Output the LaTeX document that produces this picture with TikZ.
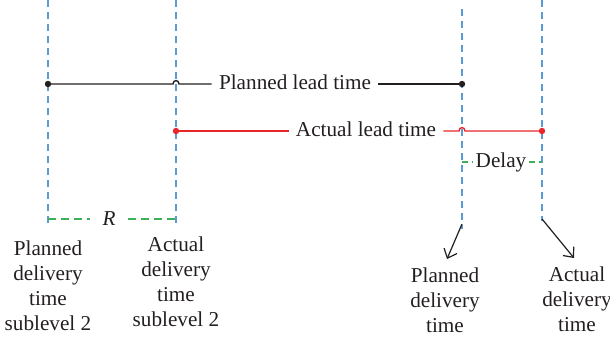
\documentclass[tikz,border=0pt]{standalone}
\usepackage{fontspec}
\setmainfont{Liberation Serif}
\usetikzlibrary{arrows.meta}
\definecolor{vblue}{HTML}{5B9BD5}
\definecolor{vgreen}{HTML}{3DAE5A}
\definecolor{vred}{HTML}{E8262A}
\definecolor{vink}{HTML}{231F20}
\begin{document}
\begin{tikzpicture}[x=0.5pt,y=-0.5pt,
  vline/.style={draw=vblue, line width=0.6pt, dash pattern=on 3.5pt off 2.5pt},
  gline/.style={draw=vgreen, line width=0.7pt, dash pattern=on 4pt off 2.5pt},
  lbl/.style={text=vink, font=\fontsize{10.6}{12.5}\selectfont},
  stack/.style={lbl, align=center, anchor=north, inner sep=0pt},
  dot/.style={circle, inner sep=0pt, minimum size=3.2pt},
  pointer/.style={draw=vink, line width=0.6pt, -{Straight Barb[length=4pt,width=7pt]}}
]
\useasboundingbox (0,0) rectangle (610,343);
% vertical guide lines
\coordinate (t1) at (48,0);   \coordinate (b1) at (48,223);
\coordinate (t2) at (176,0);  \coordinate (b2) at (176,223);
\coordinate (t3) at (462,9);  \coordinate (b3) at (462,229);
\coordinate (t4) at (542,0);  \coordinate (b4) at (542,221);
\draw[vline] (t1) -- (b1);
\draw[vline] (t2) -- (b2);
\draw[vline] (t3) -- (b3);
\draw[vline] (t4) -- (b4);

% planned lead time
\node[dot, fill=vink] (ps) at (48,84) {};
\node[dot, fill=vink] (pe) at (462,84) {};
\node[lbl, anchor=base, inner sep=3.5pt] (plt) at (295,89) {Planned lead time};
\draw[vink, line width=0.7pt] (ps.center) -- (173,84) .. controls (173,79.5) and (179,79.5) .. (179,84) -- (plt.west |- ps);
\draw[vink, line width=0.7pt] (plt.east |- pe) -- (pe.center);

% actual lead time
\node[dot, fill=vred] (as) at (176,131) {};
\node[dot, fill=vred] (ae) at (542,131) {};
\node[lbl, anchor=base, inner sep=3.5pt] (alt) at (366,136) {Actual lead time};
\draw[vred, line width=0.7pt] (as.center) -- (alt.west |- as);
\draw[vred, line width=0.7pt] (alt.east |- ae) -- (459,131) .. controls (459,126.5) and (465,126.5) .. (465,131) -- (ae.center);

% delay
\node[lbl, inner sep=1.2pt] (dl) at (501,162) {Delay};
\coordinate (d1) at (462,162); \coordinate (d2) at (542,162);
\draw[gline, dash pattern=on 3pt off 2pt] (d1) -- (dl.west |- d1);
\draw[gline, dash pattern=on 3pt off 2pt] (dl.east |- d2) -- (d2);

% R
\node[lbl, inner sep=0pt] (rr) at (109,219) {\itshape R};
\coordinate (r1) at (48,219); \coordinate (r2) at (176,219);
\draw[gline] (r1) -- (90,219);
\draw[gline] (128,219) -- (r2);

% bottom labels
\node[stack] (pds) at (48,240) {Planned\\delivery\\time\\sublevel 2};
\node[stack] (ads) at (176,236) {Actual\\delivery\\time\\sublevel 2};
\node[stack] (pdt) at (445,267) {Planned\\delivery\\time};
\node[stack] (adt) at (577,266) {Actual\\delivery\\time};

\coordinate (a1) at (462,224);
\coordinate (a2) at (542,219);
\draw[pointer] (a1) -- (447,259);
\draw[pointer] (a2) -- (574,258);
\end{tikzpicture}
\end{document}
